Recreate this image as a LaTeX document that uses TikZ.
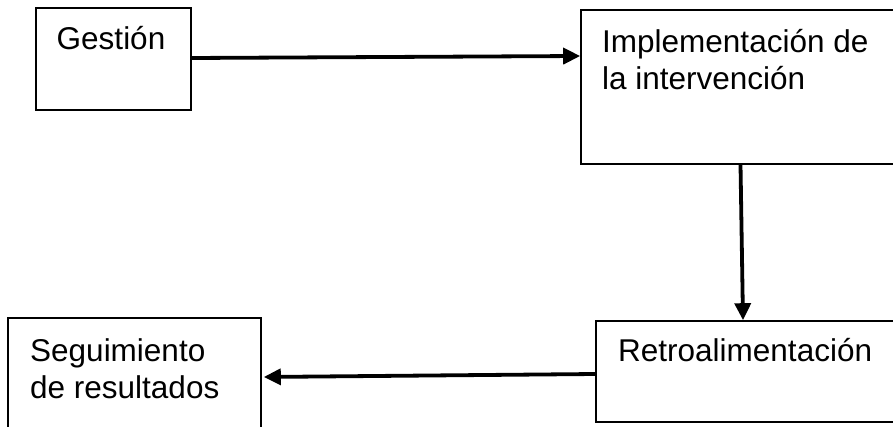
\documentclass[tikz,border=0pt]{standalone}
\usepackage{fontspec}
\setmainfont{Liberation Sans}
\usetikzlibrary{arrows.meta,calc}
\begin{document}
\begin{tikzpicture}[x=1pt,y=-1pt,
  box/.style={draw=black,line width=1.6pt,rectangle,inner sep=0pt},
  lbl/.style={inner sep=0pt,font=\fontsize{31.5}{37}\selectfont,align=left},
  arr/.style={line width=3.8pt,-{Triangle[length=17pt,width=16pt]}}]
\useasboundingbox (0,0) rectangle (893,427);
\clip (0,0) rectangle (893,427);
% boxes
\node[box,minimum width=155pt,minimum height=102pt] (gest) at (113.5,59) {};
\node[box,minimum width=319pt,minimum height=154pt] (impl) at (740.5,87) {};
\node[box,minimum width=304pt,minimum height=101pt] (retro) at (748,371.5) {};
\node[box,minimum width=253pt,minimum height=122pt] (seg) at (134.5,379) {};
% texts (base anchor sits on the last line)
\node[lbl,anchor=base] (tgest) at (111,50) {Gestión};
\node[lbl,anchor=base west] (timpl) at (602,90) {Implementación de\\la intervención};
\node[lbl,anchor=base west] (tretro) at (618,361) {Retroalimentación};
\node[lbl,anchor=base west] (tseg) at (30,398) {Seguimiento\\de resultados};
% connectors
\draw[arr] ([yshift=1pt]gest.east) -- ([yshift=31pt]impl.west);
\draw[arr] (impl.south) -- ([xshift=-5pt]retro.north);
\draw[arr] ([yshift=-2.5pt]retro.west) -- ([xshift=2pt,yshift=2pt]seg.east);
\end{tikzpicture}
\end{document}
